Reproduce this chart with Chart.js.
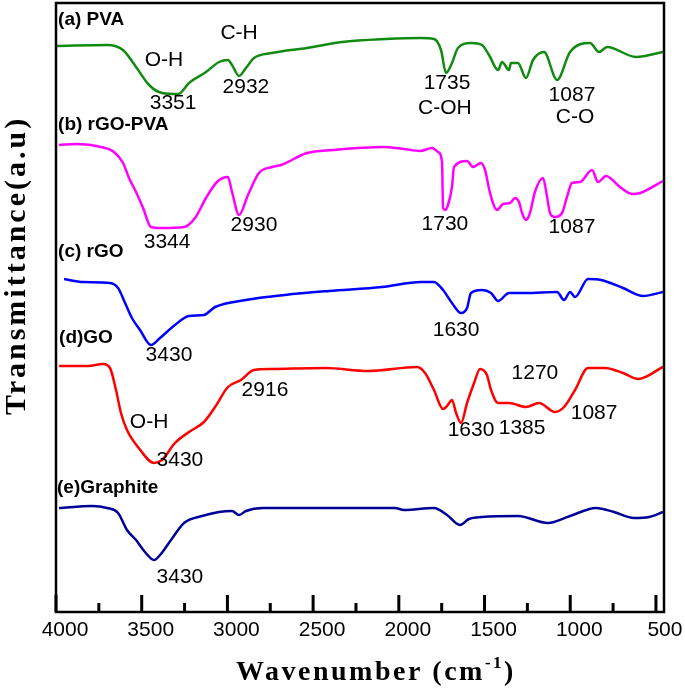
<!DOCTYPE html>
<html>
<head>
<meta charset="utf-8">
<script src="https://cdn.jsdelivr.net/npm/chart.js@4"></script>
<style>
  html, body { margin: 0; padding: 0; background: #fff; }
</style>
</head>
<body>
<canvas id="myChart" width="685" height="692"></canvas>
<script>
// wavenumber (cm-1) / transmittance (arbitrary, stacked) for each sample
const pvaWave = [3994, 3702, 3609, 3533, 3457, 3381, 3288, 3224, 3125, 3049, 2997, 2973, 2932, 2892, 2845, 2740, 2536, 2331, 2075, 1871, 1795, 1754, 1725, 1690, 1655, 1579, 1515, 1474, 1421, 1398, 1357, 1346, 1305, 1258, 1217, 1153, 1077, 1001, 885, 832, 785, 616, 459];
const pvaT = [566, 567, 562, 545, 527, 519, 518, 529, 540, 550, 552, 547, 536, 544, 554, 559, 564, 570, 573, 574, 573, 562, 539, 549, 564, 569, 567, 557, 542, 550, 542, 549, 549, 534, 552, 560, 532, 560, 569, 560, 565, 555, 560];

const rgoPvaWave = [3982, 3877, 3737, 3662, 3609, 3574, 3533, 3492, 3446, 3382, 3253, 3189, 3125, 3061, 2997, 2973, 2932, 2880, 2816, 2740, 2687, 2536, 2384, 2098, 1970, 1876, 1806, 1771, 1748, 1742, 1731, 1713, 1690, 1678, 1602, 1567, 1521, 1497, 1468, 1427, 1392, 1351, 1322, 1299, 1281, 1258, 1235, 1206, 1159, 1135, 1118, 1089, 1048, 1019, 990, 943, 873, 838, 791, 710, 640, 593, 459];
const rgoPvaT = [467, 468, 465, 460, 449, 434, 420, 404, 385, 384, 385, 394, 414, 430, 435, 420, 397, 417, 439, 445, 447, 459, 462, 465, 463, 461, 464, 460, 450, 404, 402, 407, 425, 445, 451, 445, 449, 442, 419, 402, 408, 409, 414, 410, 399, 392, 399, 420, 434, 415, 399, 395, 399, 415, 429, 430, 442, 430, 436, 425, 418, 419, 431];

const rgoWave = [3953, 3842, 3685, 3638, 3597, 3557, 3510, 3446, 3393, 3306, 3224, 3137, 3072, 2892, 2664, 2407, 2098, 1871, 1795, 1742, 1690, 1637, 1602, 1579, 1515, 1462, 1421, 1357, 1258, 1077, 1036, 1001, 972, 896, 820, 692, 575, 459];
const rgoT = [333, 330, 329, 324, 309, 294, 282, 267, 274, 287, 296, 297, 305, 312, 317, 321, 325, 330, 330, 322, 309, 299, 304, 319, 322, 319, 311, 319, 319, 320, 312, 320, 315, 333, 332, 324, 316, 320];

const goWave = [3982, 3813, 3726, 3685, 3650, 3621, 3586, 3522, 3428, 3382, 3306, 3224, 3137, 3072, 2997, 2921, 2845, 2740, 2431, 2180, 1894, 1847, 1795, 1742, 1719, 1690, 1666, 1637, 1602, 1561, 1526, 1486, 1462, 1421, 1357, 1258, 1182, 1089, 1036, 972, 896, 797, 692, 604, 459];
const goT = [246, 246, 248, 244, 222, 199, 182, 165, 149, 152, 169, 180, 190, 205, 225, 232, 242, 243, 244, 241, 245, 239, 222, 203, 206, 212, 199, 189, 209, 229, 243, 237, 222, 209, 209, 205, 209, 200, 205, 222, 244, 244, 239, 233, 245];

const graphiteWave = [3982, 3790, 3702, 3638, 3586, 3533, 3481, 3428, 3393, 3329, 3253, 3148, 3049, 2973, 2932, 2892, 2792, 2536, 2022, 1970, 1795, 1719, 1643, 1591, 1515, 1305, 1130, 1001, 850, 745, 628, 540, 459];
const graphiteT = [104, 106, 104, 99, 82, 72, 60, 52, 57, 72, 89, 96, 100, 101, 97, 101, 104, 104, 104, 102, 104, 97, 87, 93, 95, 96, 89, 96, 104, 100, 94, 95, 100];

const majorTicks = [4000, 3500, 3000, 2500, 2000, 1500, 1000, 500];
const minorTicks = [3750, 3250, 2750, 2250, 1750, 1250, 750];

const sampleNames = ["(a) PVA", "(b) rGO-PVA", "(c) rGO", "(d)GO", "(e)Graphite"];
const nameWave = [3988, 3988, 3988, 3982, 3994];
const nameT = [592, 487, 360, 274, 124];

const noteText = ["C-H", "O-H", "2932", "3351", "1735", "C-OH", "1087", "C-O",
  "2930", "3344", "1730", "1087",
  "1630", "3430",
  "2916", "1270", "O-H", "1087", "1630", "1385", "3430",
  "3430"];
const noteWave = [2932, 3370, 2892, 3317, 1719, 1731, 990, 972,
  2845, 3352, 1731, 990,
  1666, 3341,
  2781, 1206, 3457, 861, 1579, 1281, 3277,
  3277];
const noteT = [579, 552, 525, 509, 529, 504, 517, 495,
  387, 370, 388, 385,
  282, 257,
  222, 239, 190, 199, 182, 184, 152,
  35];

const toPoints = (xs, ys) => xs.map((x, i) => ({ x: x, y: ys[i] }));

const series = [
  { label: "PVA", data: toPoints(pvaWave, pvaT), color: "#118a11" },
  { label: "rGO-PVA", data: toPoints(rgoPvaWave, rgoPvaT), color: "#ff00ff" },
  { label: "rGO", data: toPoints(rgoWave, rgoT), color: "#0000ff" },
  { label: "GO", data: toPoints(goWave, goT), color: "#ff0000" },
  { label: "Graphite", data: toPoints(graphiteWave, graphiteT), color: "#000099" },
];

const decor = {
  id: "decor",
  afterDraw(chart) {
    const ctx = chart.ctx;
    const a = chart.chartArea;
    const xs = chart.scales.x;
    const ys = chart.scales.y;
    ctx.save();

    // frame
    ctx.strokeStyle = "#000";
    ctx.lineWidth = 2.5;
    ctx.strokeRect(a.left, a.top, a.right - a.left, a.bottom - a.top);

    // inward tick marks
    ctx.fillStyle = "#000";
    const mark = (v, len) => {
      const px = xs.getPixelForValue(v);
      ctx.fillRect(px - 1.5, a.bottom - len, 3, len);
    };
    majorTicks.forEach(v => mark(v, 17));
    minorTicks.forEach(v => mark(v, 9));

    // sample names
    ctx.font = 'bold 19px "Liberation Sans", Arial, sans-serif';
    ctx.textAlign = "left";
    ctx.textBaseline = "middle";
    sampleNames.forEach((s, i) => {
      ctx.fillText(s, xs.getPixelForValue(nameWave[i]), ys.getPixelForValue(nameT[i]));
    });

    // peak notes
    ctx.font = '21px "Liberation Sans", Arial, sans-serif';
    ctx.textAlign = "center";
    noteText.forEach((s, i) => {
      ctx.fillText(s, xs.getPixelForValue(noteWave[i]), ys.getPixelForValue(noteT[i]));
    });

    // y title
    ctx.save();
    ctx.translate(17, (a.top + a.bottom) / 2 - 42);
    ctx.rotate(-Math.PI / 2);
    ctx.font = 'bold 30px "Liberation Serif", "Times New Roman", serif';
    ctx.letterSpacing = "3px";
    ctx.textAlign = "center";
    ctx.textBaseline = "middle";
    ctx.fillText("Transmittance(a.u)", 0, 0);
    ctx.restore();

    // x title with superscript
    ctx.letterSpacing = "2.5px";
    ctx.textAlign = "left";
    ctx.textBaseline = "alphabetic";
    const mainFont = 'bold 28px "Liberation Serif", "Times New Roman", serif';
    const supFont = 'bold 17px "Liberation Serif", "Times New Roman", serif';
    ctx.font = mainFont;
    const w1 = ctx.measureText("Wavenumber (cm").width;
    const w3 = ctx.measureText(")").width;
    ctx.font = supFont;
    const w2 = ctx.measureText("-1").width;
    const cx = (a.left + a.right) / 2 + 16;
    const base = 680;
    let x0 = cx - (w1 + w2 + w3) / 2;
    ctx.font = mainFont;
    ctx.fillText("Wavenumber (cm", x0, base);
    ctx.font = supFont;
    ctx.fillText("-1", x0 + w1, base - 12);
    ctx.font = mainFont;
    ctx.fillText(")", x0 + w1 + w2, base);

    ctx.restore();
  }
};

const ctx = document.getElementById("myChart");
new Chart(ctx, {
  type: "line",
  data: {
    datasets: series.map(s => ({
      label: s.label,
      data: s.data,
      borderColor: s.color,
      borderWidth: 2.5,
      pointRadius: 0,
      fill: false,
      cubicInterpolationMode: "monotone",
    })),
  },
  options: {
    responsive: false,
    animation: false,
    layout: { padding: { left: 56, right: 21, top: 3, bottom: 0 } },
    plugins: {
      legend: { display: false },
      tooltip: { enabled: false },
    },
    scales: {
      x: {
        type: "linear",
        reverse: true,
        min: 453,
        max: 4000,
        afterBuildTicks: (scale) => {
          scale.ticks = majorTicks.concat(minorTicks).sort((p, q) => q - p).map(v => ({ value: v }));
        },
        afterFit: (scale) => { scale.height = 80; },
        grid: { display: false, drawTicks: false },
        border: { display: false },
        ticks: {
          autoSkip: false,
          maxRotation: 0,
          padding: 6,
          labelOffset: 9,
          color: "#000",
          font: { family: '"Liberation Sans", Arial, sans-serif', size: 21 },
          callback: (v) => majorTicks.includes(v) ? String(v) : "",
        },
      },
      y: {
        display: false,
        min: 0,
        max: 609,
      },
    },
  },
  plugins: [decor],
});
</script>
</body>
</html>
